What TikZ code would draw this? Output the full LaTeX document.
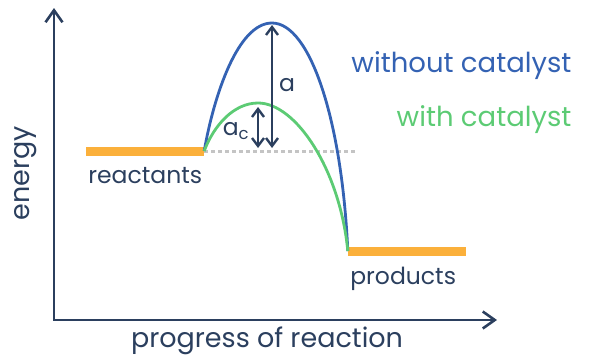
\documentclass[tikz,border=0pt]{standalone}
\usepackage{fontspec}
\setmainfont{Poppins}
\usepackage{tikz}
\usetikzlibrary{arrows.meta, positioning, calc}
\definecolor{navy}{HTML}{2B3F5E}
\definecolor{nocatblue}{HTML}{3462B3}
\definecolor{catgreen}{HTML}{5CCB74}
\definecolor{levelorange}{HTML}{FBB03B}
\definecolor{baselinegray}{HTML}{C4C4C4}
\tikzset{
    axisline/.style={
        {Straight Barb[length=12pt, width=17pt]}-{Straight Barb[length=12pt, width=17pt]},
        line width=2.6pt, color=navy
    },
    levelbar/.style={
        rectangle, fill=levelorange, draw=none,
        minimum width=118pt, minimum height=9pt, inner sep=0pt
    },
    pathcurve/.style={
        line width=2.8pt, color=#1
    },
    gaparrow/.style={
        {Straight Barb[length=8pt, width=12pt]}-{Straight Barb[length=8pt, width=12pt]},
        line width=2.4pt, color=navy
    },
    axislab/.style={
        font=\fontsize{27}{31}\selectfont, text=navy
    },
    plainlab/.style={
        font=\fontsize{23.5}{27}\selectfont, text=#1
    },
    plainlab/.default=navy,
    legendlab/.style={
        font=\fontsize{27.5}{31}\selectfont, text=#1, anchor=east
    },
}

\begin{document}
\begin{tikzpicture}[x=1pt, y=-1pt]
    \useasboundingbox (0,0) rectangle (589,359);

    % Axes
    \coordinate (origin) at (54,320);
    \coordinate (ytop) at (54,8);
    \coordinate (xend) at (497,320);
    \draw[axisline] (ytop) -- (origin) -- (xend);
    \node[axislab, rotate=90] (ylab) at (26,173) {energy};
    \node[axislab] (xlab) at (267,341) {progress of reaction};

    % Energy levels
    \node[levelbar] (reac) at (145,151) {};
    \node[levelbar] (prod) at (407,251) {};
    \node[plainlab, anchor=north west] (reaclab) at ($(reac.south west)+(-1,8)$) {reactants};
    \node[plainlab, anchor=north west] (prodlab) at ($(prod.south west)+(-1,8)$) {products};

    % Baseline of the reactants
    \draw[baselinegray, line width=3pt, dash pattern=on 4pt off 3pt] (reac.east) -- ++(153,0) coordinate (dotend);

    % Reaction paths
    \coordinate (toptop) at (272,23);
    \coordinate (catpeak) at (258,103);
    \draw[pathcurve=nocatblue] (reac.east) .. controls (214,95) and (238,23) .. (toptop)
        .. controls (310,23) and (342,120) .. (prod.west);
    \draw[pathcurve=catgreen] (reac.east) .. controls (214,125) and (234,103) .. (catpeak)
        .. controls (296,103) and (340,170) .. (prod.west);

    % Activation energies
    \coordinate (abot) at (toptop |- reac.east);
    \coordinate (acbot) at (catpeak |- reac.east);
    \draw[gaparrow] ($(abot)+(0,-3)$) -- ($(toptop)+(0,2)$);
    \draw[gaparrow] ($(acbot)+(0,-3)$) -- ($(catpeak)+(0,4)$);
    \node[plainlab] (alab) at (287,85) {a};
    \node[plainlab] (aclab) at (236,131) {a\textsubscript{c}};

    % Legend
    \node[legendlab=nocatblue] (leg1) at (575,66) {without catalyst};
    \node[legendlab=catgreen] (leg2) at (575,120) {with catalyst};

\end{tikzpicture}
\end{document}
